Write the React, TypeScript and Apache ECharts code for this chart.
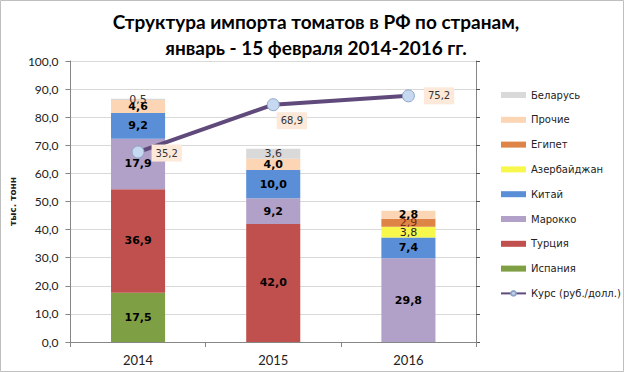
import React, { useEffect, useRef } from "react";
import * as echarts from "echarts";

const years = ["2014", "2015", "2016"];
const spain = [17.5, null, null];
const turkey = [36.9, 42.0, null];
const morocco = [17.9, 9.2, 29.8];
const china = [9.2, 10.0, 7.4];
const azerbaijan = [null, null, 3.8];
const egypt = [null, null, 2.9];
const others = [4.6, 4.0, 2.8];
const belarus = [0.5, 3.6, null];
const rate = [35.2, 68.9, 75.2];

const fmt = (v: number) => v.toFixed(1).replace(".", ",");

export default function App() {
  const ref = useRef<HTMLDivElement>(null);
  useEffect(() => {
    document.body.style.margin = "0";
    const chart = echarts.init(ref.current!, null, { renderer: "svg" });
    const labelFont = "DejaVu Sans";
    const barLabel = (bold: boolean, color: string, size = 11) => ({
      show: true,
      position: "inside",
      fontFamily: labelFont,
      fontWeight: bold ? "bold" : "normal",
      fontSize: size,
      color,
      formatter: (p: any) => fmt(p.value),
    });
    const bar = (name: string, data: any[], color: string, label: any) => ({
      name,
      type: "bar",
      stack: "total",
      barWidth: "40%",
      data,
      itemStyle: { color },
      label,
      emphasis: { disabled: true },
    });
    chart.setOption({
      animation: false,
      textStyle: { fontFamily: "Lato" },
      title: {
        text: "Структура импорта томатов в РФ по странам,\nянварь - 15 февраля 2014-2016 гг.",
        left: 311,
        textAlign: "center",
        top: 3,
        textStyle: {
          fontFamily: "Lato",
          fontWeight: "bold",
          fontSize: 19,
          lineHeight: 26,
          color: "#000",
        },
      },
      graphic: [
        {
          type: "rect",
          shape: { x: 0.5, y: 0.5, width: 623, height: 371 },
          style: { fill: "none", stroke: "#BFBFBF", lineWidth: 1 },
          silent: true,
        },
      ],
      legend: {
        orient: "vertical",
        left: 495,
        top: 84,
        itemWidth: 25,
        itemHeight: 6,
        itemGap: 12.8,
        textStyle: { fontFamily: labelFont, fontSize: 10, color: "#222", lineHeight: 12 },
        data: [
          { name: "Беларусь", icon: "rect" },
          { name: "Прочие", icon: "rect" },
          { name: "Египет", icon: "rect" },
          { name: "Азербайджан", icon: "rect" },
          { name: "Китай", icon: "rect" },
          { name: "Марокко", icon: "rect" },
          { name: "Турция", icon: "rect" },
          { name: "Испания", icon: "rect" },
          { name: "Курс (руб./долл.)" },
        ],
      },
      grid: { left: 68, right: 148, top: 61, bottom: 30 },
      xAxis: {
        type: "category",
        data: years,
        axisLine: { lineStyle: { color: "#868686" } },
        axisTick: { show: true, alignWithLabel: false, length: 5, lineStyle: { color: "#868686" } },
        axisLabel: { fontFamily: "Lato", fontSize: 13, color: "#222", margin: 11 },
      },
      yAxis: [
        {
          type: "value",
          min: 0,
          max: 100,
          interval: 10,
          name: "тыс. тонн",
          nameLocation: "middle",
          nameRotate: 90,
          nameGap: 50,
          nameTextStyle: { fontFamily: labelFont, fontWeight: "bold", fontSize: 9, color: "#222" },
          axisLine: { show: true, lineStyle: { color: "#868686" } },
          axisTick: { show: true, length: 5, lineStyle: { color: "#868686" } },
          axisLabel: {
            fontFamily: "Lato",
            fontSize: 12,
            color: "#222",
            margin: 12,
            formatter: (v: number) => fmt(v),
          },
          splitLine: { lineStyle: { color: "#D9D9D9" } },
        },
        {
          type: "value",
          min: -100,
          max: 100,
          interval: 20,
          position: "right",
          axisLine: { show: true, lineStyle: { color: "#868686" } },
          axisTick: { show: true, length: 4, lineStyle: { color: "#555" } },
          axisLabel: { show: false },
          splitLine: { show: false },
        },
      ],
      series: [
        bar("Испания", spain, "#7F9F45", barLabel(true, "#000")),
        bar("Турция", turkey, "#C0504D", barLabel(true, "#000")),
        bar("Марокко", morocco, "#B1A0C7", barLabel(true, "#000")),
        bar("Китай", china, "#5A8ED6", barLabel(true, "#000")),
        bar("Азербайджан", azerbaijan, "#F8F84C", barLabel(false, "#222")),
        bar("Египет", egypt, "#DE8446", barLabel(false, "#7A2A1A")),
        bar("Прочие", others, "#FCD5B5", barLabel(true, "#000")),
        bar("Беларусь", belarus, "#D9D9D9", barLabel(false, "#333")),
        {
          name: "Курс (руб./долл.)",
          type: "line",
          yAxisIndex: 1,
          data: [
            { value: rate[0], label: { position: "right", offset: [2, 1] } },
            { value: rate[1], label: { position: "right", offset: [-8, 16] } },
            { value: rate[2], label: { position: "right", offset: [4, 0] } },
          ],
          symbol: "circle",
          symbolSize: 12,
          lineStyle: { color: "#604A7B", width: 4 },
          itemStyle: { color: "#C6D9F1", borderColor: "#8EA4C4", borderWidth: 1 },
          emphasis: { disabled: true },
          z: 5,
          label: {
            show: true,
            fontFamily: labelFont,
            fontSize: 10,
            color: "#333",
            backgroundColor: "#FDE9D9",
            padding: [4, 4, 3, 4],
            formatter: (p: any) => fmt(p.value),
          },
        },
      ],
    });
    return () => chart.dispose();
  }, []);
  return <div ref={ref} style={{ width: 624, height: 372 }} />;
}
